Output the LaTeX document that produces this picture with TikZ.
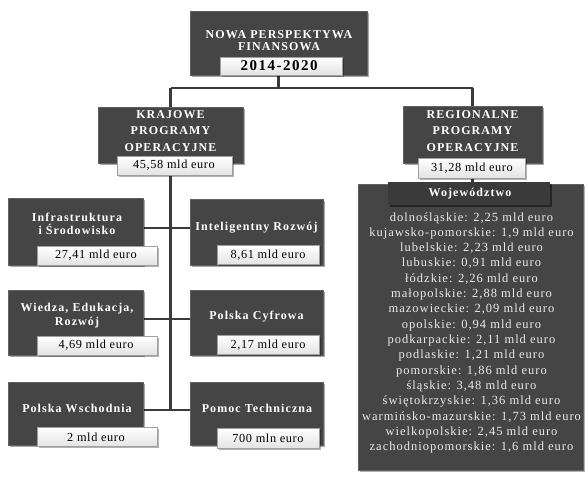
\documentclass[tikz,border=0pt]{standalone}
\usepackage{fontspec}
\setmainfont{Liberation Serif}
\newfontfamily\bxfont[LetterSpace=9]{Liberation Serif}
\newfontfamily\datefont[LetterSpace=10]{Liberation Serif}
\newfontfamily\valfont[LetterSpace=5]{Liberation Serif}
\newfontfamily\lstfont[LetterSpace=8]{Liberation Serif}
\usetikzlibrary{shadows}
\definecolor{darkbox}{HTML}{454545}
\definecolor{hdrbox}{HTML}{3A3A3A}
\definecolor{connc}{HTML}{3A3A3A}
\begin{document}
\begin{tikzpicture}[x=1pt,y=-1pt,
  dbox/.style 2 args={fill=darkbox, draw=darkbox!85!white, line width=0.6pt,
    minimum width=#1pt, minimum height=#2pt, inner sep=0pt,
    drop shadow={shadow xshift=2pt, shadow yshift=-2pt, opacity=0.35, fill=black}},
  vbox/.style 2 args={top color=white, bottom color=gray!22, draw=gray!75, line width=0.8pt,
    minimum width=#1pt, minimum height=#2pt, inner sep=0pt,
    drop shadow={shadow xshift=1.5pt, shadow yshift=-1.5pt, opacity=0.3, fill=black}},
  ttl/.style={text=white, font=\bxfont\bfseries\fontsize{12}{14}\selectfont, align=center, inner sep=0pt},
  vtxt/.style={text=black, font=\valfont\fontsize{12.3}{14}\selectfont, inner sep=0pt},
  ltxt/.style={text=white!92!black, font=\lstfont\fontsize{12.5}{14}\selectfont, inner sep=0pt},
  conn/.style={draw=connc, line width=2.5pt}
]
\useasboundingbox (0,0) rectangle (585,482);

% junction coordinates
\coordinate (j) at (278.5,88);
\coordinate (kb) at (170.5,410);

% connectors (behind boxes)
\draw[conn] (278.5,60) -- (j);
\coordinate (jk) at (170.5,88);
\coordinate (jr) at (472.5,88);
\draw[conn] (jk) -- (jr);
\draw[conn] (jk) -- (170.5,120);
\draw[conn] (jr) -- (472.5,120);
\draw[conn] (170.5,150) -- (kb);
\draw[conn] (472.5,150) -- (472.5,190);

% row connectors
\coordinate (r1l) at (143,228); \coordinate (r1r) at (190,228);
\coordinate (r2l) at (143,319); \coordinate (r2r) at (190,319);
\coordinate (r3l) at (143,410); \coordinate (r3r) at (190,410);
\draw[conn] (r1l) -- (r1r);
\draw[conn] (r2l) -- (r2r);
\draw[conn] (r3l) -- (r3r);

% top box
\node[dbox={177}{64}] (top) at (278.5,43) {};
\node[ttl, font=\bxfont\bfseries\fontsize{12}{12.5}\selectfont] (toptxt) at (279,40.5) {NOWA PERSPEKTYWA\\FINANSOWA};
\node[vbox={122}{18}] (date) at (281,66) {};
\node[text=black, font=\datefont\bfseries\fontsize{15}{16}\selectfont, inner sep=0pt] (datetxt) at (279,66) {2014-2020};

% Krajowe
\node[dbox={145}{56}] (kraj) at (170.5,135) {};
\node[ttl, font=\bxfont\bfseries\fontsize{12}{16.5}\selectfont] (krajtxt) at (170.5,131) {KRAJOWE\\PROGRAMY\\OPERACYJNE};
\node[vbox={115}{19}] (kval) at (174.5,165.5) {};
\node[vtxt] (kvaltxt) at (174,165.5) {45,58 mld euro};

% Regionalne
\node[dbox={139}{57}] (reg) at (472.5,134.5) {};
\node[ttl, font=\bxfont\bfseries\fontsize{12}{16.5}\selectfont] (regtxt) at (472.5,131) {REGIONALNE\\PROGRAMY\\OPERACYJNE};
\node[vbox={107}{20}] (rval) at (471.5,168) {};
\node[vtxt] (rvaltxt) at (472,168) {31,28 mld euro};

% Big voivodeship box
\node[fill=darkbox, draw=darkbox!85!white, line width=0.6pt, minimum width=225pt, minimum height=286pt, inner sep=0pt,
  drop shadow={shadow xshift=2pt, shadow yshift=-2pt, opacity=0.3, fill=black}] (big) at (470.5,327) {};
\node[fill=hdrbox, minimum width=162pt, minimum height=23pt, inner sep=0pt,
  drop shadow={shadow xshift=2pt, shadow yshift=-2pt, opacity=0.45, fill=black}] (hdr) at (469,193.5) {};
\node[ttl] (hdrtxt) at (470,193.5) {Województwo};

\foreach \t [count=\i from 0] in {
  {dolnośląskie: 2,25 mld euro},
  {kujawsko-pomorskie: 1,9 mld euro},
  {lubelskie: 2,23 mld euro},
  {lubuskie: 0,91 mld euro},
  {łódzkie: 2,26 mld euro},
  {małopolskie: 2,88 mld euro},
  {mazowieckie: 2,09 mld euro},
  {opolskie: 0,94 mld euro},
  {podkarpackie: 2,11 mld euro},
  {podlaskie: 1,21 mld euro},
  {pomorskie: 1,86 mld euro},
  {śląskie: 3,48 mld euro},
  {świętokrzyskie: 1,36 mld euro},
  {warmińsko-mazurskie: 1,73 mld euro},
  {wielkopolskie: 2,45 mld euro},
  {zachodniopomorskie: 1,6 mld euro}}
  \node[ltxt, anchor=base] (l\i) at (471.5,221+15.33*\i) {\t};

% Left column
\node[dbox={135}{67}] (inf) at (75.5,231.5) {};
\node[ttl, font=\bxfont\bfseries\fontsize{12}{12.5}\selectfont] (inftxt) at (77,224) {Infrastruktura\\i Środowisko};
\node[vbox={120}{19}] (infv) at (97,255.5) {};
\node[vtxt] (infvtxt) at (96,255.5) {27,41 mld euro};

\node[dbox={135}{65}] (wie) at (75.5,322.5) {};
\node[ttl, font=\bxfont\bfseries\fontsize{12}{14}\selectfont] (wietxt) at (77,316) {Wiedza, Edukacja,\\Rozwój};
\node[vbox={120}{19}] (wiev) at (97,345.5) {};
\node[vtxt] (wievtxt) at (96,345.5) {4,69 mld euro};

\node[dbox={135}{63}] (psw) at (75.5,413.5) {};
\node[ttl] (pswtxt) at (77,408) {Polska Wschodnia};
\node[vbox={120}{19}] (pswv) at (97,437) {};
\node[vtxt] (pswvtxt) at (96,437) {2 mld euro};

% Right column
\node[dbox={133}{66}] (int) at (256.5,232) {};
\node[ttl] (inttxt) at (256.5,228) {Inteligentny Rozwój};
\node[vbox={102}{19}] (intv) at (268,255) {};
\node[vtxt] (intvtxt) at (268,255) {8,61 mld euro};

\node[dbox={133}{65}] (pcy) at (256.5,322.5) {};
\node[ttl] (pcytxt) at (256.5,317) {Polska Cyfrowa};
\node[vbox={102}{19}] (pcyv) at (268,345) {};
\node[vtxt] (pcyvtxt) at (268,345) {2,17 mld euro};

\node[dbox={133}{63}] (pte) at (256.5,413.5) {};
\node[ttl] (ptetxt) at (257,408) {Pomoc Techniczna};
\node[vbox={102}{20}] (ptev) at (268,438) {};
\node[vtxt] (ptevtxt) at (268,438) {700 mln euro};
\end{tikzpicture}
\end{document}
